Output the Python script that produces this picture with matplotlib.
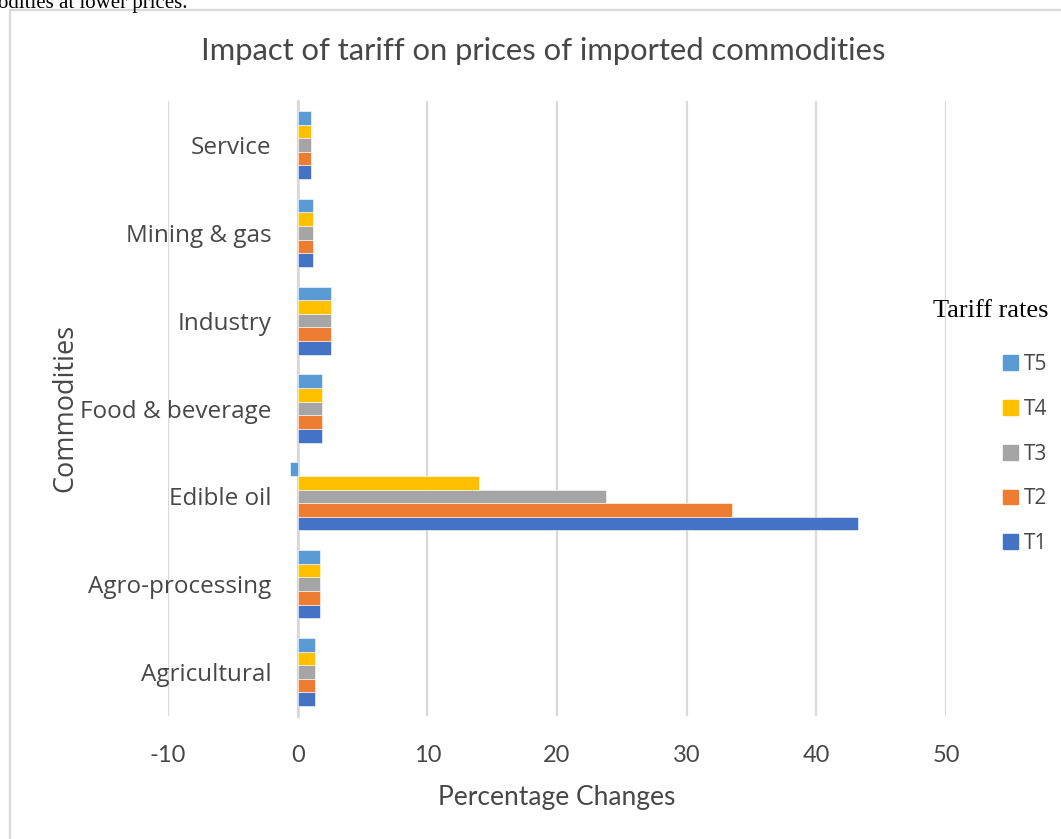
import numpy as np
import matplotlib.pyplot as plt
from matplotlib.patches import Rectangle, Patch

categories = ['Agricultural', 'Agro-processing', 'Edible oil', 'Food & beverage',
              'Industry', 'Mining & gas', 'Service']
T1 = [1.3, 1.7, 43.2, 1.9, 2.6, 1.2, 1.0]
T2 = [1.3, 1.7, 33.5, 1.9, 2.6, 1.2, 1.0]
T3 = [1.3, 1.7, 23.8, 1.9, 2.6, 1.2, 1.0]
T4 = [1.3, 1.7, 14.0, 1.9, 2.6, 1.2, 1.0]
T5 = [1.3, 1.7, -0.6, 1.9, 2.6, 1.2, 1.0]
series = ['T1', 'T2', 'T3', 'T4', 'T5']
colors = ['#4472C4', '#ED7D31', '#A5A5A5', '#FFC000', '#5B9BD5']
xticks = [-10, 0, 10, 20, 30, 40, 50]

txt = '#474747'
grid = '#D9D9D9'

W, H = 1061, 839
fig = plt.figure(figsize=(W / 100, H / 100), dpi=100)
ax = fig.add_axes([168 / W, 1 - 716 / H, (946 - 168) / W, (716 - 101) / H])

# category axis sits at x = 0 (do this before labelling ticks, it resets them)
for s in ['top', 'right', 'bottom']:
    ax.spines[s].set_visible(False)
ax.spines['left'].set_position(('data', 0))
ax.spines['left'].set_color(grid)
ax.spines['left'].set_linewidth(2)
ax.spines['left'].set_zorder(2)

y = np.arange(len(categories))
h = 0.155
for i, (name, vals) in enumerate(zip(series, [T1, T2, T3, T4, T5])):
    ax.barh(y + (i - 2) * h, vals, height=h, color=colors[i], label=name,
            edgecolor='white', linewidth=0.4, zorder=3)

ax.set_xlim(-10, 50)
ax.set_ylim(-0.5, len(categories) - 0.5)
ax.set_xticks(xticks)
ax.set_xticklabels([str(v) for v in xticks], fontfamily='Lato', fontsize=17, color=txt)
ax.set_yticks(y)
ax.set_yticklabels(categories, fontfamily='Open Sans', fontsize=17.5, color=txt)
ax.tick_params(axis='x', length=0, pad=21)
ax.tick_params(axis='y', length=0, pad=19)
ax.grid(axis='x', color=grid, linewidth=1.6, zorder=0)

fig.text(543 / W, 1 - 51 / H, 'Impact of tariff on prices of imported commodities',
         ha='center', va='center', fontfamily='Lato', fontsize=22.3, color=txt)
fig.text(557 / W, 1 - 797 / H, 'Percentage Changes', ha='center', va='center',
         fontfamily='Lato', fontsize=19, color=txt)
fig.text(65 / W, 1 - 408 / H, 'Commodities', ha='center', va='center', rotation=90,
         fontfamily='Open Sans', fontsize=19.5, color=txt)

# legend
fig.text(991 / W, 1 - 311 / H, 'Tariff rates', ha='center', va='center',
         fontfamily='Liberation Serif', fontsize=19, color='black')
handles = [Patch(color=c, label=n) for n, c in zip(series, colors)][::-1]
fig.legend(handles=handles, loc='upper left', bbox_to_anchor=(1003 / W, 1 - 354 / H),
           frameon=False, prop={'family': 'Open Sans', 'size': 15}, labelcolor=txt,
           handlelength=0.72, handleheight=0.72, handletextpad=0.3, labelspacing=1.14,
           borderpad=0, borderaxespad=0)

# chart border and cut-off document text
fig.patches.append(Rectangle((10 / W, -0.1), 1.2, 1.1 - 10 / H, transform=fig.transFigure,
                             fill=False, edgecolor=grid, linewidth=1.6))
fig.text(-2 / W, 1 - 8 / H, 'odities at lower prices.', ha='left', va='baseline',
         fontfamily='Liberation Serif', fontsize=15, color='black')

fig.savefig('out.png', dpi=100, facecolor='white')
